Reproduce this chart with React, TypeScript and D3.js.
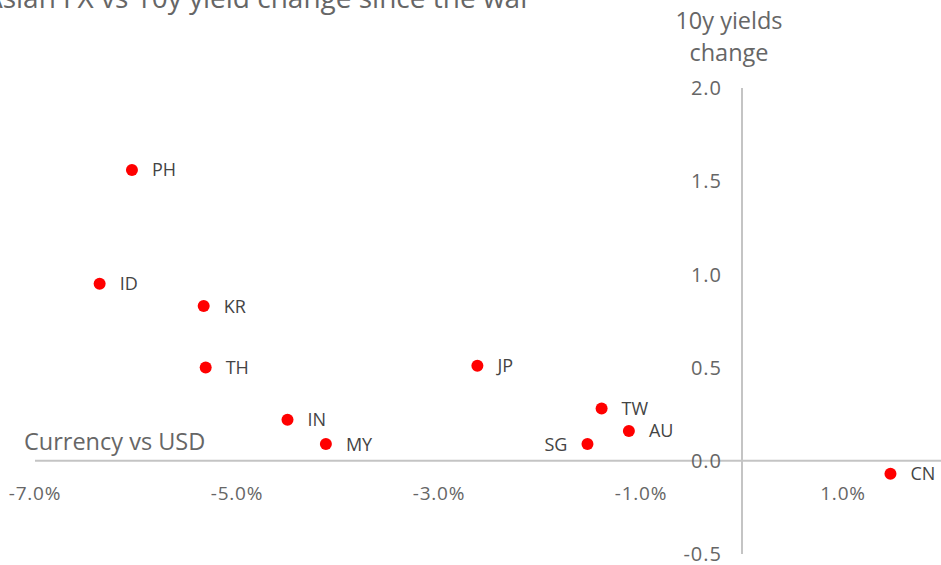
import React from 'react';
import * as d3 from 'd3';

// Asian FX change vs USD (%) and 10y yield change (pp) since the war
const countries = ['PH', 'ID', 'KR', 'TH', 'IN', 'MY', 'JP', 'TW', 'AU', 'SG', 'CN'];
const fxChange = [-6.04, -6.36, -5.33, -5.31, -4.5, -4.12, -2.62, -1.39, -1.12, -1.53, 1.47];
const yieldChange = [1.56, 0.95, 0.83, 0.5, 0.22, 0.09, 0.51, 0.28, 0.16, 0.09, -0.07];
const xTicks = [-7, -5, -3, -1, 1];
const yTicks = [2, 1.5, 1, 0.5, 0, -0.5];

const WIDTH = 941;
const HEIGHT = 565;
const FONT = '"Open Sans", "Noto Sans", sans-serif';

// plain hyphen instead of d3's unicode minus
const fmt = (v: number) => d3.format('.1f')(v).replace('\u2212', '-');

const App: React.FC = () => {
  const x = d3.scaleLinear().domain([-7, 2]).range([35, 944]);
  const y = d3.scaleLinear().domain([-0.5, 2]).range([554, 88]);

  return (
    <div style={{ position: 'fixed', left: 0, top: 0, width: WIDTH, height: HEIGHT, background: '#fff' }}>
      <svg width={WIDTH} height={HEIGHT} style={{ display: 'block', fontFamily: FONT }}>
        {/* title, clipped at the top as in the source */}
        <text x={-15} y={8} fontSize={28} fill="#666">Asian FX vs 10y yield change since the war</text>

        {/* axes */}
        <line x1={x(-7)} x2={WIDTH} y1={y(0)} y2={y(0)} stroke="#c4c4c4" strokeWidth={2} />
        <line x1={x(0)} x2={x(0)} y1={y(2)} y2={y(-0.5)} stroke="#c4c4c4" strokeWidth={2} />

        {xTicks.map(t => (
          <text key={t} x={x(t)} y={500} textAnchor="middle" fontSize={19} letterSpacing={0.8} fill="#666">
            {fmt(t) + '%'}
          </text>
        ))}
        {yTicks.map(t => (
          <text key={t} x={722} y={y(t)} dy="0.36em" textAnchor="end" fontSize={20} letterSpacing={1} fill="#666">
            {fmt(t)}
          </text>
        ))}

        <text x={24} y={450} fontSize={23.5} fill="#666">Currency vs USD</text>
        <text x={729} y={29} textAnchor="middle" fontSize={23.5} fill="#666">10y yields</text>
        <text x={729} y={61} textAnchor="middle" fontSize={23.5} fill="#666">change</text>

        {/* points */}
        {countries.map((c, i) => {
          const cx = x(fxChange[i]);
          const cy = y(yieldChange[i]);
          const left = c === 'SG';
          return (
            <g key={c}>
              <circle cx={cx} cy={cy} r={6} fill="#ff0000" />
              <text
                x={left ? cx - 20 : cx + 20}
                y={cy}
                dy="0.36em"
                textAnchor={left ? 'end' : 'start'}
                fontSize={18}
                fill="#444"
              >
                {c}
              </text>
            </g>
          );
        })}
      </svg>
    </div>
  );
};

export default App;
